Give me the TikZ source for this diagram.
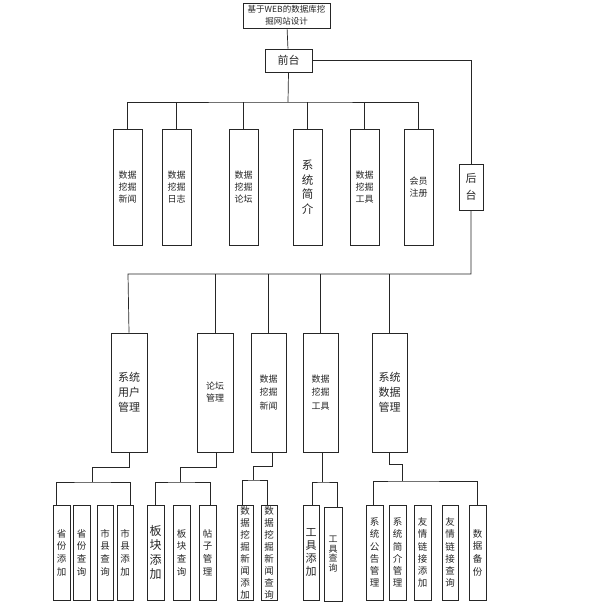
\documentclass[tikz,border=0pt]{standalone}
\usepackage{fontspec}
\setmainfont{Noto Sans CJK SC}
\newcommand{\fs}[2]{\fontsize{#1}{#2}\selectfont}
\begin{document}
\begin{tikzpicture}[x=1pt,y=-1pt,
  box/.style={draw=black!85,line width=0.8pt,inner sep=0pt,align=center,text=black!85},
  ln/.style={draw=black!85,line width=0.7pt},
  small/.style={font=\fs{9}{12}},
  big/.style={font=\fs{11}{15}},
  col/.style={font=\fs{9.5}{12.7}}]
\path[use as bounding box] (0,0) rectangle (593,608);
\fill[white] (0,0) rectangle (593,608);
% top
\node[box,minimum width=87pt,minimum height=25pt,font=\fs{8.5}{12}] (title) at (286.5,15.5) {基于WEB的数据库挖\\掘网站设计};
\node[box,minimum width=47pt,minimum height=23pt,font=\fs{11}{13}] (qian) at (288.5,60.5) {前台};
\node[box,minimum width=24pt,minimum height=46pt,font=\fs{11}{17}] (hou) at (471,187) {后\\台};
% top row
\foreach \n/\x/\t/\s in {t1/127.5/数据\\挖掘\\新闻/small, t2/176.5/数据\\挖掘\\日志/small, t3/243.5/数据\\挖掘\\论坛/small, t5/364.5/数据\\挖掘\\工具/small, t6/418.5/会员\\注册/small}
  \node[box,\s,minimum width=29pt,minimum height=116pt] (\n) at (\x,187) {\t};
\node[box,font=\fs{11.5}{14.5},minimum width=29pt,minimum height=116pt] (t4) at (307.5,187) {系\\统\\简\\介};
% middle row
\node[box,big,minimum width=36pt,minimum height=119pt] (m1) at (129,392.5) {系统\\用户\\管理};
\node[box,small,minimum width=36pt,minimum height=119pt] (m2) at (215,392.5) {论坛\\管理};
\node[box,font=\fs{9}{13.3},minimum width=35pt,minimum height=119pt] (m3) at (268.5,392.5) {数据\\挖掘\\新闻};
\node[box,font=\fs{9}{13.3},minimum width=35pt,minimum height=119pt] (m4) at (320.5,392.5) {数据\\挖掘\\工具};
\node[box,big,minimum width=35pt,minimum height=119pt] (m5) at (389.5,392.5) {系统\\数据\\管理};
% bottom row
\foreach \n/\x/\w/\t in {b11/61.5/17/省\\份\\添\\加, b12/81.5/17/省\\份\\查\\询, b13/105/16/市\\县\\查\\询, b14/125/16/市\\县\\添\\加, b22/181.5/17/板\\块\\查\\询, b23/207.5/17/帖\\子\\管\\理, b55/477.5/17/数\\据\\备\\份}
  \node[box,col,minimum width=\w pt,minimum height=95pt] (\n) at (\x,552.5) {\t};
\foreach \n/\x/\w/\t in {b51/374.5/17/系\\统\\公\\告\\管\\理, b52/397.5/17/系\\统\\简\\介\\管\\理, b53/422.5/17/友\\情\\链\\接\\添\\加, b54/450/16/友\\情\\链\\接\\查\\询}
  \node[box,font=\fs{9.5}{12.2},minimum width=\w pt,minimum height=95pt] (\n) at (\x,552.5) {\t};
\node[box,font=\fs{12}{14.5},minimum width=17pt,minimum height=95pt] (b21) at (155.5,552.5) {板\\块\\添\\加};
\node[box,font=\fs{9.5}{12},minimum width=16pt,minimum height=95pt] (b31) at (245,552.5) {数\\据\\挖\\掘\\新\\闻\\添\\加};
\node[box,font=\fs{9.5}{12},minimum width=16pt,minimum height=95pt] (b32) at (269,552.5) {数\\据\\挖\\掘\\新\\闻\\查\\询};
\node[box,font=\fs{11}{13},minimum width=16pt,minimum height=95pt] (b41) at (311,552.5) {工\\具\\添\\加};
\node[box,font=\fs{9}{9.8},minimum width=18pt,minimum height=94pt] (b42) at (333,554) {工\\具\\查\\询};
% connector points
\coordinate (bus1) at (288,102);
\coordinate (bus2) at (128,274);
\coordinate (g1k) at (92,467); \coordinate (g1h) at (92,482);
\coordinate (g2k) at (180,467); \coordinate (g2h) at (180,482);
\coordinate (g3k) at (253,466); \coordinate (g3h) at (253,480);
\coordinate (g4h) at (322,482);
\coordinate (g5k) at (402,464); \coordinate (g5h) at (402,481);
% connectors
\draw[ln] (title) -- (qian);
\draw[ln] (qian.south) -- (bus1);
\draw[ln] (t1.north) |- (bus1) -| (t6.north);
\foreach \n in {t2,t3,t4,t5} \draw[ln] (\n.north) -- (\n.north |- bus1);
\draw[ln] (qian.east) -| (hou.north);
\draw[ln] (hou.south) |- (bus2) -- (m1.north);
\foreach \n in {m2,m3,m4,m5} \draw[ln] (\n.north) -- (\n.north |- bus2);
% group 1
\draw[ln] (m1.south) |- (g1k) -- (g1h);
\draw[ln] ([xshift=-5.5pt]b11.north) |- (g1h) -| ([xshift=5pt]b14.north);
% group 2
\draw[ln] ([xshift=1pt]m2.south) |- (g2k) -- (g2h);
\draw[ln] (b21.north) |- (g2h) -| ([xshift=2.5pt]b23.north);
% group 3
\draw[ln] ([xshift=3.5pt]m3.south) |- (g3k) -- (g3h);
\draw[ln] ([xshift=-3pt]b31.north) |- (g3h) -| ([xshift=-2pt]b32.north);
% group 4
\draw[ln] ([xshift=1.5pt]m4.south) -- (g4h);
\draw[ln] ([xshift=1pt]b41.north) |- (g4h) -| ([xshift=4pt]b42.north);
% group 5
\draw[ln] (m5.south) |- (g5k) -- (g5h);
\draw[ln] ([xshift=-1.5pt]b51.north) |- (g5h) -| (b55.north);
\end{tikzpicture}
\end{document}
